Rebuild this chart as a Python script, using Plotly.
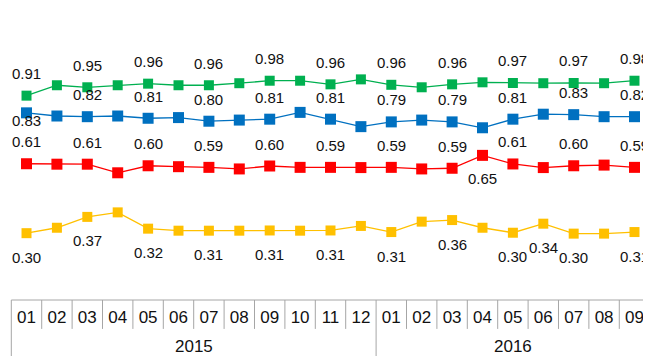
import plotly.graph_objects as go

# ---------------- data ----------------
years = ["2015"] * 12 + ["2016"] * 9
months = ["01", "02", "03", "04", "05", "06", "07", "08", "09", "10", "11", "12",
          "01", "02", "03", "04", "05", "06", "07", "08", "09"]

green = [0.910, 0.956, 0.947, 0.956, 0.963, 0.956, 0.956, 0.965, 0.976, 0.976, 0.960,
         0.982, 0.958, 0.947, 0.960, 0.969, 0.966, 0.965, 0.966, 0.965, 0.976]
blue = [0.834, 0.820, 0.817, 0.820, 0.810, 0.813, 0.797, 0.802, 0.806, 0.836, 0.806,
        0.773, 0.794, 0.802, 0.794, 0.768, 0.806, 0.828, 0.826, 0.817, 0.817]
red = [0.609, 0.607, 0.607, 0.569, 0.600, 0.596, 0.593, 0.586, 0.599, 0.593, 0.593,
       0.592, 0.593, 0.586, 0.589, 0.646, 0.608, 0.592, 0.600, 0.603, 0.593]
yellow = [0.302, 0.326, 0.374, 0.394, 0.322, 0.313, 0.313, 0.313, 0.314, 0.313, 0.314,
          0.334, 0.307, 0.353, 0.360, 0.326, 0.304, 0.344, 0.300, 0.300, 0.307]

# indices of points that carry a value label
even_idx = list(range(0, 21, 2))
green_labels = even_idx
blue_labels = even_idx
red_labels = sorted(even_idx + [15])
yellow_labels = sorted(even_idx + [17])

# ---------------- style ----------------
FONT = "Liberation Sans, Arial, sans-serif"
GRID = "#A6A6A6"
x = list(range(len(months)))

series = [
    # values, label idx, color, marker size, default label shift (px, + = up), special shifts
    (green, green_labels, "#00B050", 10, 22, {}),
    (blue, blue_labels, "#0070C0", 11, 22, {0: -8}),
    (red, red_labels, "#FF0000", 11, 22, {15: -23}),
    (yellow, yellow_labels, "#FFC000", 10, -24, {}),
]

fig = go.Figure()
annotations = []
for vals, lab_idx, color, msize, shift, special in series:
    fig.add_trace(go.Scatter(
        x=x, y=vals, mode="lines+markers",
        line=dict(color=color, width=1.3),
        marker=dict(symbol="square", size=msize, color=color),
        hoverinfo="skip",
    ))
    for i in lab_idx:
        annotations.append(dict(
            x=x[i], y=vals[i], xref="x", yref="y",
            text=f"{vals[i]:.2f}", showarrow=False,
            yshift=special.get(i, shift),
            font=dict(family=FONT, size=15, color="#111111"),
        ))

# year labels (centred under their month groups)
for yr in ["2015", "2016"]:
    idx = [i for i, y in enumerate(years) if y == yr]
    annotations.append(dict(
        x=sum(idx) / len(idx), y=-0.16, xref="x", yref="paper",
        text=yr, showarrow=False, yanchor="middle",
        font=dict(family=FONT, size=17, color="#111111"),
    ))

# table-style category axis grid
shapes = [dict(type="line", xref="x", yref="paper", x0=-0.5, x1=len(months) - 0.5,
               y0=0, y1=0, line=dict(color=GRID, width=1))]
group_edges = {0, len(months)}
for i in range(1, len(months)):
    if years[i] != years[i - 1]:
        group_edges.add(i)
for b in range(len(months) + 1):
    full = b in group_edges
    shapes.append(dict(type="line", xref="x", yref="paper", x0=b - 0.5, x1=b - 0.5,
                       y0=0, y1=-0.25 if full else -0.099,
                       line=dict(color=GRID, width=1)))

# the page body has an 8px margin, so the figure is sized to fit the window
fig.update_layout(
    width=643, height=348,
    margin=dict(l=2, r=0, t=0, b=56),
    paper_bgcolor="white", plot_bgcolor="white",
    showlegend=False,
    annotations=annotations, shapes=shapes,
    xaxis=dict(range=[-0.543, len(months) - 0.457], tickmode="array", tickvals=x,
               ticktext=months, showgrid=False, zeroline=False, showline=False,
               ticks="", ticklabelstandoff=5,
               tickfont=dict(family=FONT, size=17, color="#111111")),
    yaxis=dict(range=[0.0066, 1.2975], visible=False, showgrid=False, zeroline=False),
)

fig.write_html("out.html")
